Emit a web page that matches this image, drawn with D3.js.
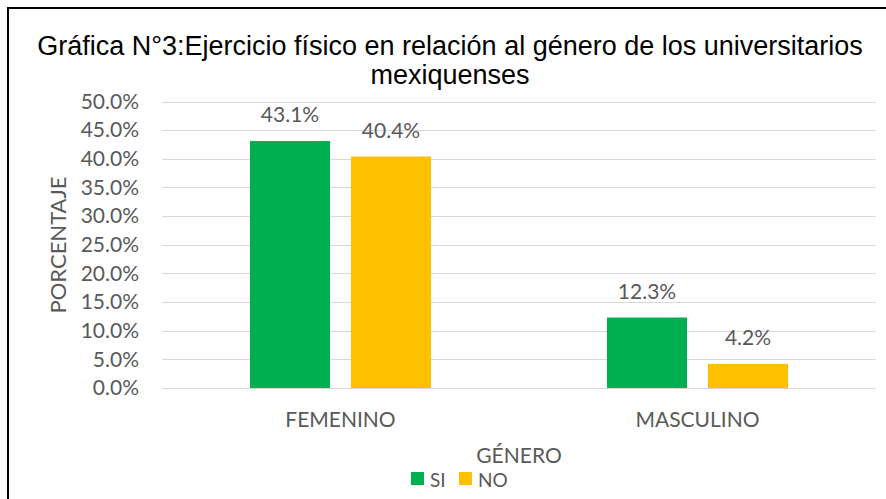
<!DOCTYPE html>
<html>
<head>
<meta charset="utf-8">
<script src="https://cdn.jsdelivr.net/npm/d3@7"></script>
<style>
  body { margin: 0; background: #fff; }
  svg text { font-family: Lato, "Open Sans", sans-serif; fill: #595959; }
  .title { font-family: "Liberation Sans", Arial, sans-serif !important; fill: #000 !important; }
</style>
</head>
<body>
<svg id="chart" width="886" height="499"></svg>
<script>
// chart data
var categories = ["FEMENINO", "MASCULINO"];
var seriesNames = ["SI", "NO"];
var siValues = [43.1, 12.3];
var noValues = [40.4, 4.2];
var yTicks = [0, 5, 10, 15, 20, 25, 30, 35, 40, 45, 50];
var colors = ["#00B050", "#FFC000"];

var svg = d3.select("#chart");

// outer frame (only left and top edges show in the picture)
svg.append("rect")
    .attr("x", 8).attr("y", 8)
    .attr("width", 900).attr("height", 520)
    .style("fill", "none")
    .style("stroke", "#000")
    .style("stroke-width", 2);

var margin = { left: 162, right: 876, top: 101.5, bottom: 388 };

var x = d3.scaleBand().domain(categories).range([margin.left, margin.right]);
var y = d3.scaleLinear().domain([0, 50]).range([margin.bottom, margin.top]);
var xInner = d3.scaleBand().domain(seriesNames).range([0, 181]).paddingInner(0.208);

// gridlines
svg.append("g").selectAll("line")
    .data(yTicks)
    .enter()
    .append("line")
    .attr("x1", margin.left).attr("x2", margin.right)
    .attr("y1", function (d) { return Math.round(y(d)) + 0.5; })
    .attr("y2", function (d) { return Math.round(y(d)) + 0.5; })
    .style("stroke", "#d9d9d9")
    .style("stroke-width", 1);

// y axis labels
var yAxis = d3.axisLeft(y).tickValues(yTicks).tickSize(0).tickPadding(0)
    .tickFormat(function (d) { return d.toFixed(1) + "%"; });
var gy = svg.append("g").attr("transform", "translate(139,0)").call(yAxis);
gy.select(".domain").remove();
gy.selectAll("text").style("font-size", "21px").style("fill", "#595959")
    .style("font-family", "Lato, sans-serif");

// bars
var rows = categories.map(function (c, i) {
    return { cat: c, vals: [siValues[i], noValues[i]] };
});

var groups = svg.selectAll("g.grp")
    .data(rows)
    .enter()
    .append("g")
    .attr("class", "grp")
    .attr("transform", function (d) { return "translate(" + (x(d.cat) + x.bandwidth() / 2 - 90.5) + ",0)"; });

groups.selectAll("rect")
    .data(function (d) { return d.vals.map(function (v, j) { return { name: seriesNames[j], v: v, j: j }; }); })
    .enter()
    .append("rect")
    .attr("x", function (d) { return xInner(d.name); })
    .attr("width", xInner.bandwidth())
    .attr("y", function (d) { return y(d.v); })
    .attr("height", function (d) { return y(0) - y(d.v); })
    .style("fill", function (d) { return colors[d.j]; });

groups.selectAll("text")
    .data(function (d) { return d.vals.map(function (v, j) { return { name: seriesNames[j], v: v }; }); })
    .enter()
    .append("text")
    .attr("x", function (d) { return xInner(d.name) + xInner.bandwidth() / 2; })
    .attr("y", function (d) { return y(d.v) - 19; })
    .attr("text-anchor", "middle")
    .style("font-size", "21px")
    .text(function (d) { return d.v.toFixed(1) + "%"; });

// x axis category labels
svg.selectAll("text.cat")
    .data(categories)
    .enter()
    .append("text")
    .attr("class", "cat")
    .attr("x", function (d) { return x(d) + x.bandwidth() / 2; })
    .attr("y", 427)
    .attr("text-anchor", "middle")
    .style("font-size", "21px")
    .text(function (d) { return d; });

// title
svg.append("text").attr("class", "title")
    .attr("x", 450).attr("y", 55)
    .attr("text-anchor", "middle")
    .style("font-size", "27px")
    .text("Gráfica N°3:Ejercicio físico en relación al género de los universitarios");
svg.append("text").attr("class", "title")
    .attr("x", 450).attr("y", 84)
    .attr("text-anchor", "middle")
    .style("font-size", "27px")
    .text("mexiquenses");

// axis titles
svg.append("text")
    .attr("transform", "translate(66,245) rotate(-90)")
    .attr("text-anchor", "middle")
    .style("font-size", "22px")
    .text("PORCENTAJE");

svg.append("text")
    .attr("x", (margin.left + margin.right) / 2)
    .attr("y", 463)
    .attr("text-anchor", "middle")
    .style("font-size", "21px")
    .text("GÉNERO");

// legend
var legendX = [411, 459];
var legend = svg.selectAll("g.leg")
    .data(seriesNames)
    .enter()
    .append("g")
    .attr("class", "leg")
    .attr("transform", function (d, i) { return "translate(" + legendX[i] + ",472)"; });
legend.append("rect")
    .attr("width", 13).attr("height", 13)
    .style("fill", function (d, i) { return colors[i]; });
legend.append("text")
    .attr("x", 19).attr("y", 15)
    .style("font-size", "19px")
    .text(function (d) { return d; });
</script>
</body>
</html>
